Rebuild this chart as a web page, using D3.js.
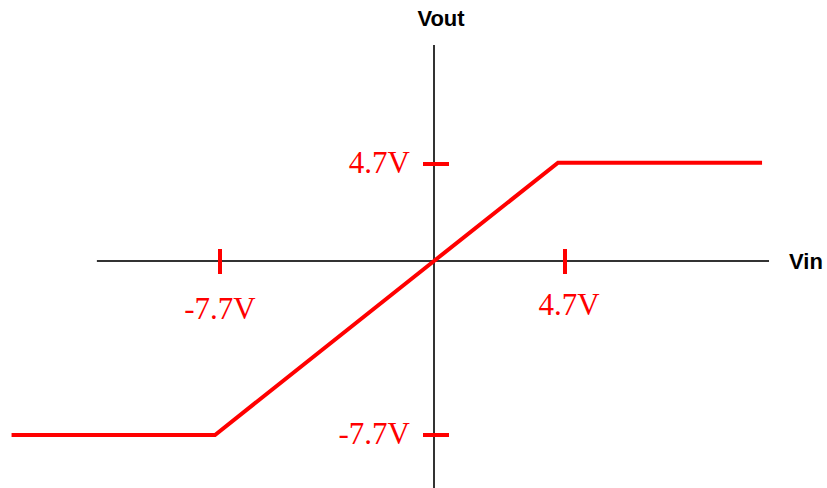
<!DOCTYPE html>
<html>
<head>
<meta charset="utf-8">
<script src="https://cdn.jsdelivr.net/npm/d3@7"></script>
<style>
  html, body { margin: 0; padding: 0; background: #fff; }
  svg { display: block; }
</style>
</head>
<body>
<svg id="chart" width="827" height="488"></svg>
<script>
// ---- data ----
const scaleVolts = [-7.7, 0, 4.7];               // reference points of the drawing
const curveVin  = [-15.2, -7.88, 0, 4.45, 11.77]; // transfer curve, input volts
const curveVout = [-7.7, -7.7, 0, 4.76, 4.76];    // transfer curve, output volts
const vinTicks  = [-7.7, 4.7];
const vinTickLabels  = ["-7.7V", "4.7V"];
const voutTicks = [4.7, -7.7];
const voutTickLabels = ["4.7V", "-7.7V"];
const vinExtent  = [-12.13, 12.02];
const voutExtent = [-10.05, 10.47];
const xTitle = "Vin";
const yTitle = "Vout";

// ---- scales ----
const x = d3.scaleLinear().domain(scaleVolts).range([220, 434, 565]);
const y = d3.scaleLinear().domain(scaleVolts).range([435, 261, 164]);

const svg = d3.select("#chart");
const red = "#ff0000";
const axisColor = "#333";

// axes
svg.append("line")
  .attr("x1", x(vinExtent[0])).attr("x2", x(vinExtent[1]))
  .attr("y1", y(0)).attr("y2", y(0))
  .attr("stroke", axisColor).attr("stroke-width", 2);
svg.append("line")
  .attr("x1", x(0)).attr("x2", x(0))
  .attr("y1", y(voutExtent[1])).attr("y2", y(voutExtent[0]))
  .attr("stroke", axisColor).attr("stroke-width", 2);

// axis titles
svg.append("text")
  .attr("x", x(0) + 7).attr("y", 26)
  .attr("text-anchor", "middle")
  .attr("font-family", "'Liberation Sans', Arial, sans-serif")
  .attr("font-weight", "bold").attr("font-size", 22)
  .attr("fill", "#000")
  .text(yTitle);
svg.append("text")
  .attr("x", 789).attr("y", y(0) + 8)
  .attr("font-family", "'Liberation Sans', Arial, sans-serif")
  .attr("font-weight", "bold").attr("font-size", 22)
  .attr("fill", "#000")
  .text(xTitle);

// x ticks
vinTicks.forEach((v, i) => {
  svg.append("line")
    .attr("x1", x(v)).attr("x2", x(v))
    .attr("y1", y(0) - 12).attr("y2", y(0) + 13)
    .attr("stroke", red).attr("stroke-width", 4);
  svg.append("text")
    .attr("x", x(v) + (v > 0 ? 4 : 0)).attr("y", y(0) + (v > 0 ? 54 : 58))
    .attr("text-anchor", "middle")
    .attr("font-family", "'Liberation Serif', 'Times New Roman', serif")
    .attr("font-size", 31)
    .attr("fill", red)
    .text(vinTickLabels[i]);
});

// y ticks
voutTicks.forEach((v, i) => {
  svg.append("line")
    .attr("x1", x(0) - 11).attr("x2", x(0) + 15)
    .attr("y1", y(v)).attr("y2", y(v))
    .attr("stroke", red).attr("stroke-width", 4);
  svg.append("text")
    .attr("x", 410).attr("y", y(v) + 9)
    .attr("text-anchor", "end")
    .attr("font-family", "'Liberation Serif', 'Times New Roman', serif")
    .attr("font-size", 31)
    .attr("fill", red)
    .text(voutTickLabels[i]);
});

// transfer curve
const pts = curveVin.map((v, i) => [v, curveVout[i]]);
svg.append("path")
  .datum(pts)
  .attr("d", d3.line().x(d => x(d[0])).y(d => y(d[1])))
  .attr("fill", "none")
  .attr("stroke", red)
  .attr("stroke-width", 4)
  .attr("stroke-linejoin", "miter");
</script>
</body>
</html>
